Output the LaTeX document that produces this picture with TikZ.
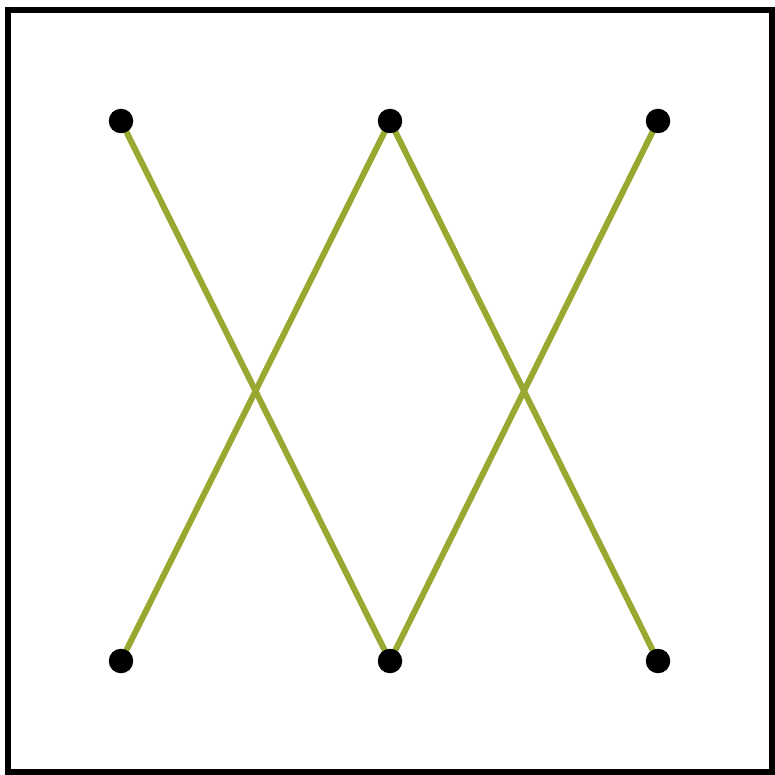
\documentclass[tikz,border=0pt]{standalone}
\usetikzlibrary{backgrounds}
\definecolor{olive}{RGB}{152,168,48}
\begin{document}
\begin{tikzpicture}[x=1pt,y=-1pt,
  dotnode/.style={circle,fill=black,inner sep=0pt,minimum size=24.5pt},
  edge/.style={draw=olive,line width=6pt}]
\useasboundingbox (0,0) rectangle (775,775);
\draw[line width=6pt] (7.5,10) rectangle (771.5,772);
\node[dotnode] (a1) at (121,121) {};
\node[dotnode] (a2) at (390,121) {};
\node[dotnode] (a3) at (658,121) {};
\node[dotnode] (b1) at (121,661) {};
\node[dotnode] (b2) at (390,661) {};
\node[dotnode] (b3) at (658,661) {};
\begin{pgfonlayer}{background}
\path[edge] (a1.center) -- (b2.center);
\path[edge] (a2.center) -- (b1.center);
\path[edge] (a2.center) -- (b3.center);
\path[edge] (a3.center) -- (b2.center);
\end{pgfonlayer}
\end{tikzpicture}
\end{document}
